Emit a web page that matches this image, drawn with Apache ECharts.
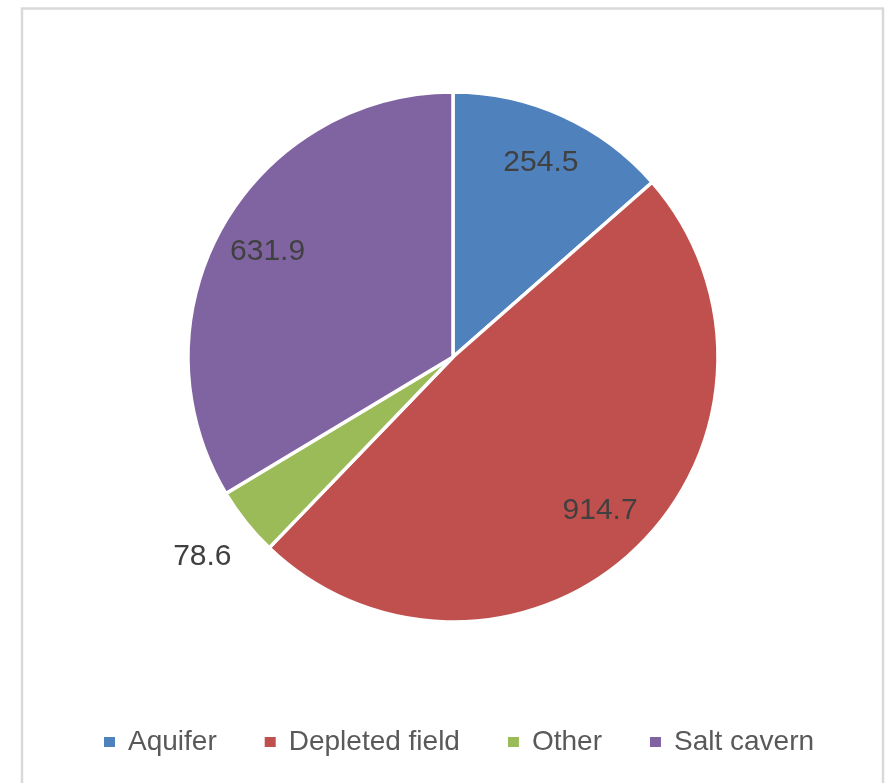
<!DOCTYPE html>
<html>
<head>
<meta charset="utf-8">
<script src="https://cdn.jsdelivr.net/npm/echarts@6/dist/echarts.min.js"></script>
<style>
  html, body { margin: 0; padding: 0; background: #ffffff; }
  #chart { width: 887px; height: 783px; }
</style>
</head>
<body>
<div id="chart"></div>
<script>
// Storage capacity by facility type
const categories = ['Aquifer', 'Depleted field', 'Other', 'Salt cavern'];
const values = [254.5, 914.7, 78.6, 631.9];
const colors = ['#4f81bd', '#c0504d', '#9bbb59', '#8064a2'];
// slices whose value label sits outside the pie
const outsideLabels = ['Other'];

const center = [453, 357];
const outerR = 265;

const pieData = categories.map((name, i) => ({
  name, value: values[i], itemStyle: { color: colors[i] }
}));

const labelFont = { fontFamily: 'Liberation Sans', fontSize: 30, color: '#404040' };

// invisible rings carrying the value labels at the right distance from the centre
const ringData = (showOutside) => categories.map((name, i) => {
  const isOut = outsideLabels.includes(name);
  return {
    name, value: values[i],
    itemStyle: { color: 'rgba(0,0,0,0)' },
    label: { show: showOutside ? isOut : !isOut }
  };
});

const chart = echarts.init(document.getElementById('chart'), null, { renderer: 'canvas' });
chart.setOption({
  animation: false,
  backgroundColor: '#ffffff',
  graphic: [{
    type: 'rect',
    shape: { x: 22, y: 8.5, width: 861, height: 800 },
    style: { fill: 'none', stroke: '#d9d9d9', lineWidth: 2.5 },
    silent: true
  }],
  legend: {
    left: 97,
    top: 723,
    icon: 'rect',
    itemWidth: 13,
    itemHeight: 12,
    itemGap: 46,
    selectedMode: false,
    textStyle: { fontFamily: 'Liberation Sans', fontSize: 28, color: '#595959', padding: [0, 0, 0, 7] },
    data: categories.map((name, i) => ({ name, itemStyle: { color: colors[i] } }))
  },
  series: [
    {
      type: 'pie',
      center, radius: [0, outerR],
      startAngle: 90, clockwise: true,
      avoidLabelOverlap: false,
      silent: true,
      itemStyle: { borderColor: '#ffffff', borderWidth: 3.5 },
      label: { show: false },
      labelLine: { show: false },
      data: pieData
    },
    {
      type: 'pie',
      center, radius: [155, outerR],
      startAngle: 90, clockwise: true,
      avoidLabelOverlap: false,
      silent: true,
      label: Object.assign({ position: 'inside', formatter: p => p.value.toFixed(1) }, labelFont),
      labelLine: { show: false },
      data: ringData(false)
    },
    {
      type: 'pie',
      center, radius: [290, 345],
      startAngle: 90, clockwise: true,
      avoidLabelOverlap: false,
      silent: true,
      label: Object.assign({ position: 'inside', formatter: p => p.value.toFixed(1) }, labelFont),
      labelLine: { show: false },
      data: ringData(true)
    }
  ]
});
</script>
</body>
</html>
